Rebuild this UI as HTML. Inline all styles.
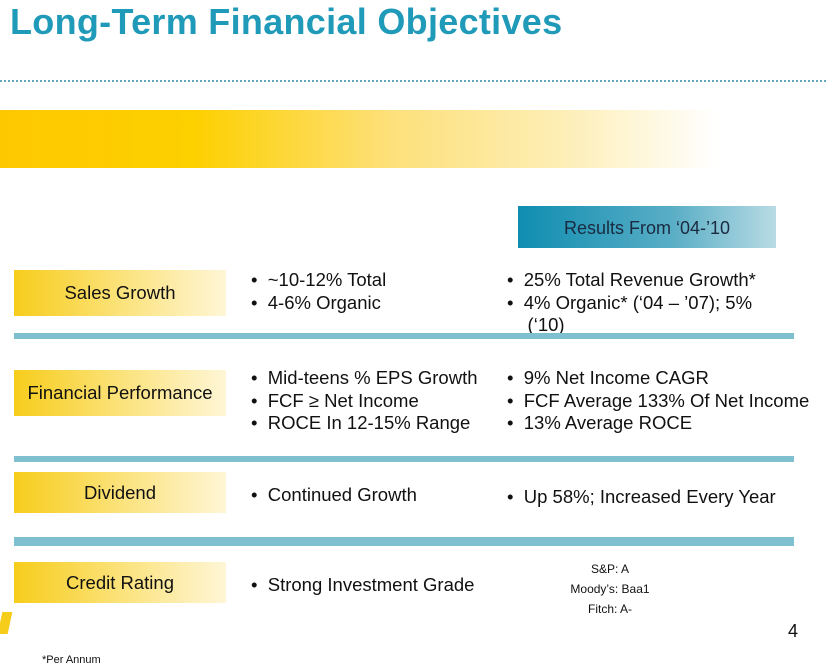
<!DOCTYPE html>
<html><head><style>
body{margin:0;width:826px;height:667px;background:#fff;position:relative;overflow:hidden;font-family:"Liberation Sans",sans-serif;color:#111}
.a{position:absolute;white-space:nowrap}
.t{left:10px;top:1px;font-size:36px;font-weight:bold;color:#1f9ab8;letter-spacing:0.3px}
.dot{left:0;top:80px;width:826px;border-top:2px dotted #5fa8c0}
.ybar{left:0;top:110px;width:780px;height:58px;background:linear-gradient(90deg,#fec800 0%,#fdd000 25%,#fde07a 50%,#fdeeb5 72%,#fff 92%)}
.res{left:518px;top:206px;width:258px;height:42px;background:linear-gradient(90deg,#0f8db0,#5aaec6 60%,#b8dbe4);font-size:18px;line-height:44px;text-align:center;color:#1a2a40}
.lab{left:14px;width:212px;font-size:18.5px;text-align:center;background:linear-gradient(90deg,#f7cd1c,#fbe27a 50%,#fef6d6)}
.sep{left:14px;width:780px;height:6px;background:#7fc0d0}
.b{font-size:18.5px;line-height:22.5px}
.s{font-size:12px;text-align:center;width:120px}
</style></head><body>
<div class="a t">Long-Term Financial Objectives</div>
<div class="a dot"></div>
<div class="a ybar"></div>
<div class="a res">Results From ‘04-’10</div>

<div class="a lab" style="top:270px;height:46px;line-height:46px">Sales Growth</div>
<div class="a b" style="left:251px;top:269px">•&nbsp; ~10-12% Total<br>•&nbsp; 4-6% Organic</div>
<div class="a b" style="left:507px;top:269px">•&nbsp; 25% Total Revenue Growth*<br>•&nbsp; 4% Organic* (‘04 – ’07); 5%<br>&nbsp;&nbsp;&nbsp; (‘10)</div>
<div class="a sep" style="top:333px"></div>

<div class="a lab" style="top:370px;height:46px;line-height:46px">Financial Performance</div>
<div class="a b" style="left:251px;top:367px">•&nbsp; Mid-teens % EPS Growth<br>•&nbsp; FCF ≥ Net Income<br>•&nbsp; ROCE In 12-15% Range</div>
<div class="a b" style="left:507px;top:367px">•&nbsp; 9% Net Income CAGR<br>•&nbsp; FCF Average 133% Of Net Income<br>•&nbsp; 13% Average ROCE</div>
<div class="a sep" style="top:456px"></div>

<div class="a lab" style="top:472px;height:41px;line-height:41px">Dividend</div>
<div class="a b" style="left:251px;top:484px">•&nbsp; Continued Growth</div>
<div class="a b" style="left:507px;top:486px">•&nbsp; Up 58%; Increased Every Year</div>
<div class="a sep" style="top:537px;height:9px"></div>

<div class="a lab" style="top:562px;height:41px;line-height:41px">Credit Rating</div>
<div class="a b" style="left:251px;top:574px">•&nbsp; Strong Investment Grade</div>
<div class="a s" style="left:550px;top:559px;line-height:20px">S&amp;P: A<br>Moody’s: Baa1<br>Fitch: A-</div>

<div class="a" style="left:0;top:612px;width:10px;height:22px;background:#f7cd1c;transform:skewX(-12deg)"></div>
<div class="a" style="left:788px;top:621px;font-size:18px">4</div>
<div class="a" style="left:42px;top:654px;font-size:11px">*Per Annum</div>
</body></html>
